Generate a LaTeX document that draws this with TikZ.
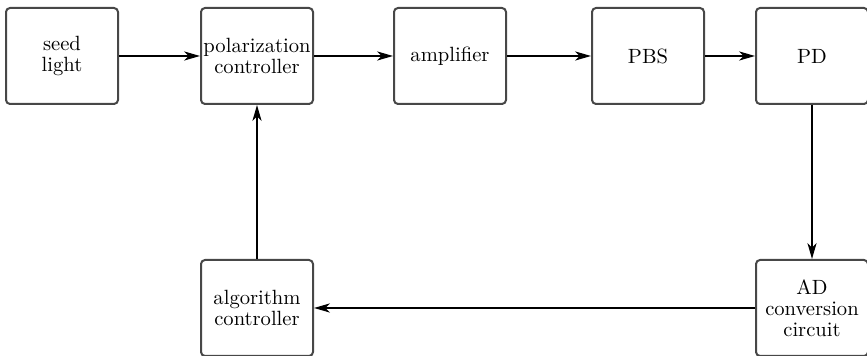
\documentclass[tikz,border=0pt]{standalone}
\usepackage{tikz}
\usetikzlibrary{arrows.meta}

\begin{document}
\begin{tikzpicture}[x=0.5pt, y=-0.5pt,
    block/.style={draw=black!72, line width=1pt, rounded corners=2pt,
        minimum width=56pt, minimum height=48pt, inner sep=0pt,
        align=center, font=\fontsize{10.3}{10.6}\selectfont},
    link/.style={line width=0.75pt,
        -{Stealth[length=8pt, width=4.6pt, inset=2.4pt]}}]
    \useasboundingbox (0, 0) rectangle (867, 356);
    % top row
    \node[block] (seed) at (62, 56) {seed\\light};
    \node[block] (polctrl) at (257, 56) {polarization\\controller};
    \node[block] (amp) at (450, 56) {amplifier};
    \node[block] (pbs) at (648, 56) {PBS};
    \node[block] (pd) at (812, 56) {PD};
    % bottom row
    \node[block] (adc) at (812, 308) {AD\\conversion\\circuit};
    \node[block] (algctrl) at (257, 308) {algorithm\\controller};
    % signal path
    \draw[link] (seed) -- (polctrl);
    \draw[link] (polctrl) -- (amp);
    \draw[link] (amp) -- (pbs);
    \draw[link] (pbs) -- (pd);
    \draw[link] (pd) -- (adc);
    \draw[link] (adc) -- (algctrl);
    \draw[link] (algctrl) -- (polctrl);
\end{tikzpicture}
\end{document}
